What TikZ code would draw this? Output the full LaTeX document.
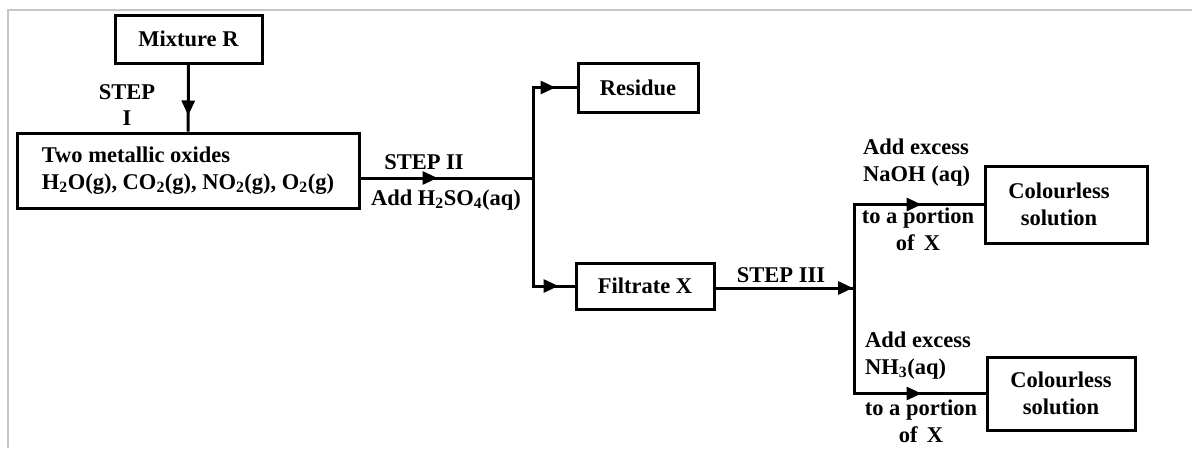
\documentclass[tikz,border=0pt]{standalone}
\usepackage{fontspec}
\setmainfont{Liberation Serif}
\usepackage{tikz}
\usetikzlibrary{arrows.meta, decorations.markings}

\tikzset{
  box/.style={draw, line width=3pt, inner sep=0pt, align=center},
  flow/.style={line width=3pt},
  tipat/.style={postaction={decorate}, decoration={markings,
      mark=at position #1 with {\arrow{Triangle[length=15pt, width=13pt]}}}},
  lbl/.style={inner sep=0pt, align=center}
}

\begin{document}
\begin{tikzpicture}[x=1pt, y=-1pt, font=\bfseries\fontsize{22.5}{26.5}\selectfont]
  \useasboundingbox (0,0) rectangle (1192,448);
  % edge of the cut-out
  \draw[black!22, line width=1.5pt] (8,448) -- (8,10) -- (1192,10);

  % boxes
  \node[box, minimum width=147pt, minimum height=48pt] (mix) at (188.5,39) {Mixture R};
  \node[box, minimum width=342pt, minimum height=75pt, align=left] (oxides) at (188,170.5)
       {Two metallic oxides\\H\textsubscript{2}O(g), CO\textsubscript{2}(g), NO\textsubscript{2}(g), O\textsubscript{2}(g)};
  \node[box, minimum width=120pt, minimum height=49pt] (residue) at (638,87.5) {Residue};
  \node[box, minimum width=138pt, minimum height=46pt] (filtrate) at (645,286) {Filtrate X};
  \node[box, minimum width=162pt, minimum height=77pt] (col1) at (1066,204.5) {\hspace*{-14pt}Colourless\\\hspace*{-14pt}solution};
  \node[box, minimum width=148pt, minimum height=73pt] (col2) at (1061,393.5) {Colourless\\solution};

  \coordinate (split1) at (533,178);
  \coordinate (split2) at (854,288);

  % connectors
  \draw[flow, tipat=-16pt] (mix) -- (oxides);
  \draw[flow, tipat=77pt] (oxides.east |- split1) -- (split1);
  \draw[flow, tipat=-21pt] (split1) |- (residue.west);
  \draw[flow, tipat=-16pt] (split1) |- (filtrate.west);
  \draw[flow, tipat=-1pt] (filtrate.east |- split2) -- (split2);
  \draw[flow, tipat=-62pt] (split2) |- (col1.west);
  \draw[flow, tipat=-64pt] (split2) |- (col2.west);

  % labels
  \node[lbl] (step1) at (127,105) {STEP\\I};
  \node[lbl] (step2) at (424,162) {STEP II};
  \node[lbl] (acid) at (446,200) {Add H\textsubscript{2}SO\textsubscript{4}(aq)};
  \node[lbl] (step3) at (781,275) {STEP III};
  \node[lbl, align=left, anchor=west] (naoh) at (863,162.5) {Add excess\\NaOH (aq)};
  \node[lbl] (part1) at (918,229.5) {to a portion\\of\, X};
  \node[lbl, align=left, anchor=west] (nh3) at (865,355.5) {Add excess\\NH\textsubscript{3}(aq)};
  \node[lbl] (part2) at (921,421.5) {to a portion\\of\, X};
\end{tikzpicture}
\end{document}
